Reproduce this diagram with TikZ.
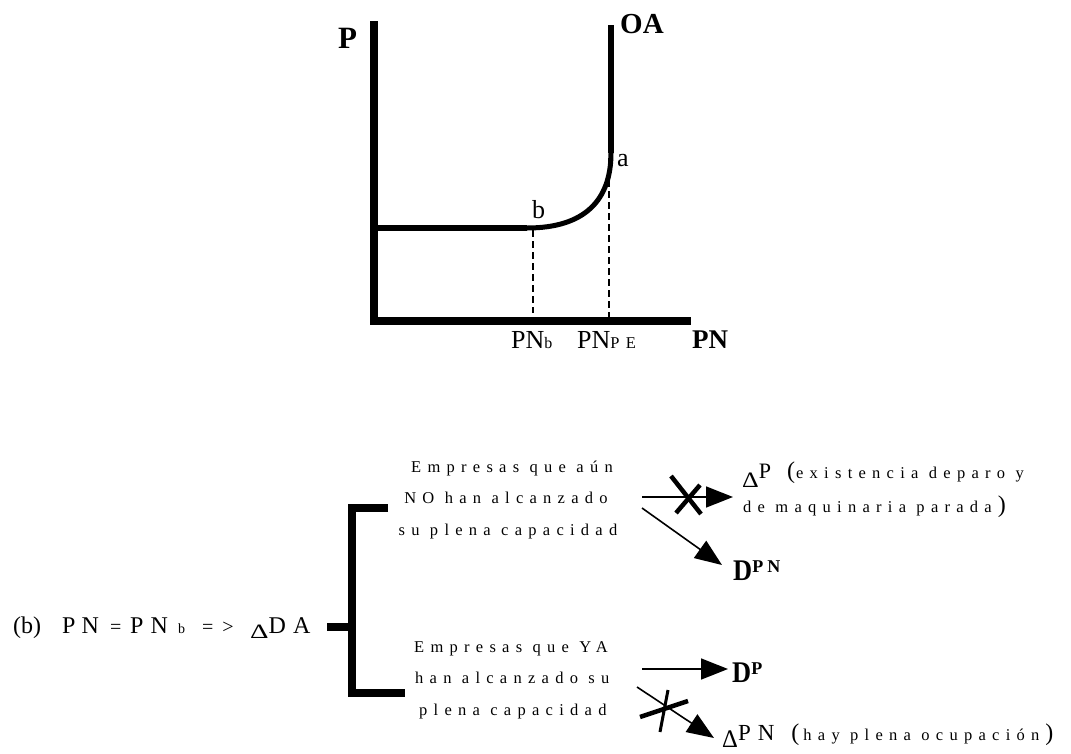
\documentclass[tikz,border=0pt]{standalone}
\usepackage{fontspec}
\setmainfont{Liberation Serif}
\newfontfamily\spc[LetterSpace=38]{Liberation Serif}
\usetikzlibrary{arrows.meta}
% lowered, reshaped Delta: #1 drop, #2 x-scale, #3 y-scale
\newcommand{\dlow}[3]{\raisebox{-#1}{\scalebox{#2}[#3]{Δ}}}
\newcommand{\bigD}{\scalebox{0.88}[1]{D}}
\begin{document}
\begin{tikzpicture}[x=1pt,y=-1pt,
  axis/.style={line width=8.5pt,line join=miter},
  supply/.style={line width=6pt},
  guide/.style={line width=1.1pt,dash pattern=on 7pt off 4pt},
  arr/.style={line width=1.6pt,-{Triangle[length=27pt,width=21pt]}},
  cross/.style={line width=4.5pt},
  lbl/.style={inner sep=0pt,anchor=base west},
  ctr/.style={inner sep=0pt,anchor=base},
  smalltxt/.style={font=\fontsize{16.5}{19}\selectfont\spc},
  eqtxt/.style={lbl,font=\fontsize{24}{28}\selectfont}
]
\useasboundingbox (0,0) rectangle (1071,753);
% ---------- graph ----------
\coordinate (ytop) at (374,21);
\coordinate (orig) at (374,321);
\coordinate (xend) at (691,321);
\draw[axis] (ytop) -- (orig) -- (xend);
\coordinate (flat0) at (378,228);
\coordinate (bpt) at (527,228);
\coordinate (apt) at (611,153);
\coordinate (oatop) at (611,25);
\draw[supply] (flat0) -- (bpt);
\draw[line width=5pt] (bpt) .. controls (585,228) and (611,200) .. (apt);
\draw[supply] (apt) -- (oatop);
\coordinate (db1) at (533,230);
\coordinate (db2) at (533,313);
\coordinate (da1) at (609,158);
\coordinate (da2) at (609,317);
\draw[guide] (db1) -- (db2);
\draw[guide] (da1) -- (da2);
\node[lbl,font=\fontsize{31}{34}\selectfont\bfseries] (P) at (338,48) {P};
\node[lbl,font=\fontsize{29}{32}\selectfont\bfseries] (OA) at (620,33) {OA};
\node[lbl,font=\fontsize{26}{30}\selectfont] (la) at (617,166) {a};
\node[lbl,font=\fontsize{26}{30}\selectfont] (lb) at (532,218) {b};
\node[lbl,font=\fontsize{26}{30}\selectfont] (pnb) at (511,348) {PN{\fontsize{16}{18}\selectfont b}};
\node[lbl,font=\fontsize{26}{30}\selectfont] (pnpe) at (577,348) {PN{\fontsize{16.5}{18}\selectfont\spc PE}};
\node[lbl,font=\fontsize{27}{30}\selectfont\bfseries] (pnax) at (692,348) {PN};
% ---------- scheme: (b) PN = PN_b => Delta DA ----------
\node[eqtxt] (m1) at (13,633) {(b)};
\node[eqtxt] (m2) at (62,633) {P\hspace{6pt}N};
\node[eqtxt,font=\fontsize{20}{24}\selectfont] (m3) at (110,633) {=};
\node[eqtxt] (m4) at (130,633) {P\hspace{7pt}N};
\node[eqtxt,font=\fontsize{14}{16}\selectfont] (m5) at (178,633) {b};
\node[eqtxt,font=\fontsize{20}{24}\selectfont] (m6) at (202,633) {=\hspace{9pt}>};
\node[eqtxt] (m7) at (250,633) {\dlow{5pt}{1.2}{0.85}D\hspace{7pt}A};
\coordinate (st1) at (327,627);
\coordinate (st2) at (352,627);
\coordinate (bt) at (388,508);
\coordinate (bc1) at (352,508);
\coordinate (bc2) at (352,693);
\coordinate (bb) at (405,693);
\draw[axis] (bt) -- (bc1) -- (bc2) -- (bb);
\draw[axis] (st1) -- (st2);
% upper group
\node[ctr,smalltxt] (u1) at (512,472) {Empresas que aún};
\node[ctr,smalltxt] (u2) at (506,503) {NO han alcanzado};
\node[ctr,smalltxt] (u3) at (508,535) {su plena capacidad};
\coordinate (ua0) at (642,497);
\coordinate (ua1) at (733,497);
\draw[arr] (ua0) -- (ua1);
\coordinate (ux1) at (671,476);
\coordinate (ux2) at (701,514);
\coordinate (ux3) at (700,485);
\coordinate (ux4) at (676,513);
\draw[cross] (ux1) -- (ux2);
\draw[cross] (ux3) -- (ux4);
\coordinate (ud0) at (642,508);
\coordinate (ud1) at (722,565);
\draw[arr] (ud0) -- (ud1);
\node[lbl,font=\fontsize{22}{26}\selectfont] (dP) at (742,478)
  {\dlow{9pt}{1.18}{1}P\hspace{16pt}{\fontsize{24}{26}\selectfont(}\hspace{1pt}{\fontsize{16.5}{19}\selectfont\spc existencia deparo y}};
\node[lbl,font=\fontsize{16.5}{19}\selectfont\spc] (dP2) at (743,512)
  {de maquinaria parada\hspace{6pt}{\fontsize{24}{26}\selectfont)}};
\node[lbl,font=\fontsize{30}{32}\selectfont\bfseries] (DPN) at (733,580)
  {\bigD\raisebox{8pt}{\fontsize{18}{20}\selectfont P\hspace{4pt}N}};
% lower group
\node[lbl,smalltxt] (l1) at (414,652) {Empresas que YA};
\node[lbl,smalltxt] (l2) at (415,683) {han alcanzado su};
\node[lbl,smalltxt] (l3) at (419,715) {plena capacidad};
\coordinate (la0) at (642,669);
\coordinate (la1) at (728,669);
\draw[arr] (la0) -- (la1);
\node[lbl,font=\fontsize{30}{32}\selectfont\bfseries] (DP) at (732,682)
  {\bigD\raisebox{8pt}{\fontsize{18}{20}\selectfont P}};
\coordinate (ld0) at (637,687);
\coordinate (ld1) at (714,738);
\draw[arr] (ld0) -- (ld1);
\coordinate (lx1) at (640,717);
\coordinate (lx2) at (688,701);
\coordinate (lx3) at (668,690);
\coordinate (lx4) at (660,732);
\draw[line width=4.5pt] (lx1) -- (lx2);
\draw[line width=3pt] (lx3) -- (lx4);
\node[lbl,font=\fontsize{23}{26}\selectfont] (dPN) at (722,740)
  {\dlow{7pt}{1.07}{1.1}P\hspace{7pt}N\hspace{17pt}{\fontsize{24}{26}\selectfont(}\hspace{4pt}{\fontsize{16.5}{19}\selectfont\spc hay plena ocupación}\hspace{6pt}{\fontsize{24}{26}\selectfont)}};
\end{tikzpicture}
\end{document}
